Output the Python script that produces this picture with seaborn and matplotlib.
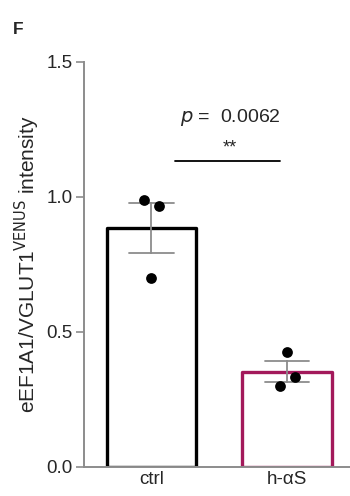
import numpy as np
import pandas as pd
import matplotlib
matplotlib.use("Agg")
import matplotlib.pyplot as plt
import seaborn as sns

# ---- data ----
groups = ["ctrl", "ctrl", "ctrl", "h-\u03b1S", "h-\u03b1S", "h-\u03b1S"]
values = [0.99, 0.967, 0.70, 0.426, 0.333, 0.300]
jitter = [-0.055, 0.055, 0.0, 0.0, 0.06, -0.05]
categories = ["ctrl", "h-\u03b1S"]
yticks = [0.0, 0.5, 1.0, 1.5]
p_text = "=  0.0062"
stars = "**"

edge_colors = ["#000000", "#a3195b"]
gray = "#8c8c8c"

df = pd.DataFrame({"group": groups, "value": values, "jit": jitter})
df["xpos"] = df["group"].map({c: i for i, c in enumerate(categories)}) + df["jit"]

sns.set_style("ticks")
plt.rcParams["font.family"] = ["Liberation Sans", "DejaVu Sans"]

fig = plt.figure(figsize=(3.5, 4.96), dpi=100)
ax = fig.add_axes([0.24, 0.0585, 0.76, 0.8165])

sns.barplot(data=df, x="group", y="value", order=categories, errorbar="se",
            width=0.66, fill=False, capsize=0.33, err_kws={"color": gray, "linewidth": 1.3},
            ax=ax)
for patch, c in zip(ax.patches, edge_colors):
    patch.set_edgecolor(c)
    patch.set_linewidth(2.4)
    patch.set_joinstyle("round")

ax.scatter(df["xpos"], df["value"], s=60, color="black", zorder=5, linewidths=0)

ax.set_ylim(0, 1.5)
ax.set_xlim(-0.498, 1.465)
ax.set_yticks(yticks)
ax.set_yticklabels([f"{t:.1f}" for t in yticks], fontsize=13.5)
ax.tick_params(axis="y", length=6, width=1.2, color=gray, pad=2)
ax.tick_params(axis="x", length=0, labelsize=13.5, pad=3)
ax.set_xlabel("")
ax.set_ylabel("eEF1A1/VGLUT1$^{\\mathrm{VENUS}}$ intensity", fontsize=15, labelpad=3)
for s in ["top", "right"]:
    ax.spines[s].set_visible(False)
for s in ["left", "bottom"]:
    ax.spines[s].set_color(gray)
    ax.spines[s].set_linewidth(1.4)
    ax.spines[s].set_zorder(10)

# significance annotation
ax.plot([0.17, 0.95], [1.135, 1.135], color="black", linewidth=1.3, clip_on=False)
ax.text(0.58, 1.15, stars, ha="center", va="bottom", fontsize=13)
ax.text(0.58, 1.255, "$\\it{p}$ " + p_text, ha="center", va="bottom", fontsize=14)

fig.text(0.037, 0.94, "F", fontsize=12.5, fontweight="bold", ha="left", va="center")

fig.savefig("out.png", dpi=100)
